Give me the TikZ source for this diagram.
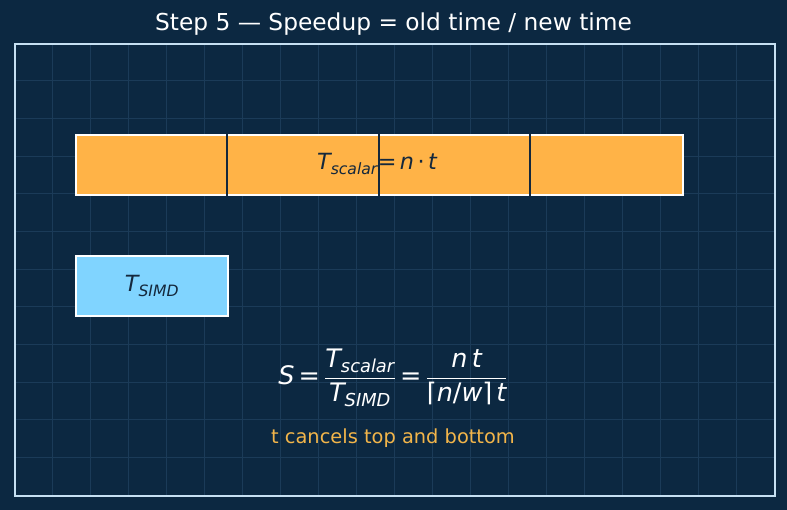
\documentclass[tikz,border=0pt]{standalone}
\usepackage{amsmath}
\usepackage{fontspec}
\setmainfont{DejaVu Sans}
\definecolor{bg}{HTML}{0C2841}
\definecolor{gridc}{HTML}{1B3B58}
\definecolor{framec}{HTML}{C6E0F2}
\definecolor{orangec}{HTML}{FFB347}
\definecolor{bluec}{HTML}{80D4FF}
\definecolor{darkc}{HTML}{14283C}
\definecolor{notec}{HTML}{F2B54A}
\newcommand\mv[1]{\text{\itshape #1}}
\newcommand\up[1]{\text{#1}}
\tikzset{
  bar/.style={draw=white, line width=2pt, inner sep=0pt, anchor=north west},
  divider/.style={draw=darkc, line width=2pt},
}
\begin{document}
\begin{tikzpicture}[x=1pt,y=-1pt]
\fill[bg] (0,0) rectangle (787,510);
\useasboundingbox (0,0) rectangle (787,510);
% grid
\foreach \i in {1,...,19} \draw[gridc, line width=0.7pt] (14+38*\i,43) -- (14+38*\i,495);
\foreach \j in {1,...,11} \draw[gridc, line width=0.7pt] (14,43+37.67*\j) -- (774,43+37.67*\j);
\node[draw=framec, line width=1.6pt, minimum width=760pt, minimum height=452pt, inner sep=0pt, anchor=north west] (frame) at (14,43) {};
\node[text=white, font=\fontsize{23.3}{28}\selectfont] (title) at (393.5,24) {Step 5 — Speedup = old time / new time};
% scalar bar
\node[bar, fill=orangec, minimum width=607pt, minimum height=60pt] (scalar) at (75,134) {};
\node[text=darkc, font=\fontsize{22.3}{26}\selectfont, inner sep=0pt] (scalarlbl) at (377,164) {$\mv{T}_{\mv{scalar}}\up{=}\,\mv{n}\,\up{·}\,\mv{t}$};
\foreach \k in {1,2,3} \draw[divider] ([xshift=151.75pt*\k]scalar.north west) -- ([xshift=151.75pt*\k]scalar.south west);
% simd box
\node[bar, fill=bluec, minimum width=152pt, minimum height=60pt] (simd) at (75,255) {};
\node[text=darkc, font=\fontsize{22.3}{26}\selectfont, inner sep=0pt] (simdlbl) at (simd.center) {$\mv{T}_{\mv{SIMD}}$};
% formula
\node[text=white, font=\fontsize{25.5}{30}\selectfont] (formula) at (393,378) {$\mv{S}\,\up{=}\,\dfrac{\mv{T}_{\mv{scalar}}}{\mv{T}_{\mv{SIMD}}}\,\up{=}\,\dfrac{\mv{n}\,\mv{t}}{\up{⌈}\mv{n}\up{/}\mv{w}\up{⌉}\,\mv{t}}$};
\node[text=notec, font=\fontsize{19.4}{23}\selectfont] (note) at (393,438) {t cancels top and bottom};
\end{tikzpicture}
\end{document}
